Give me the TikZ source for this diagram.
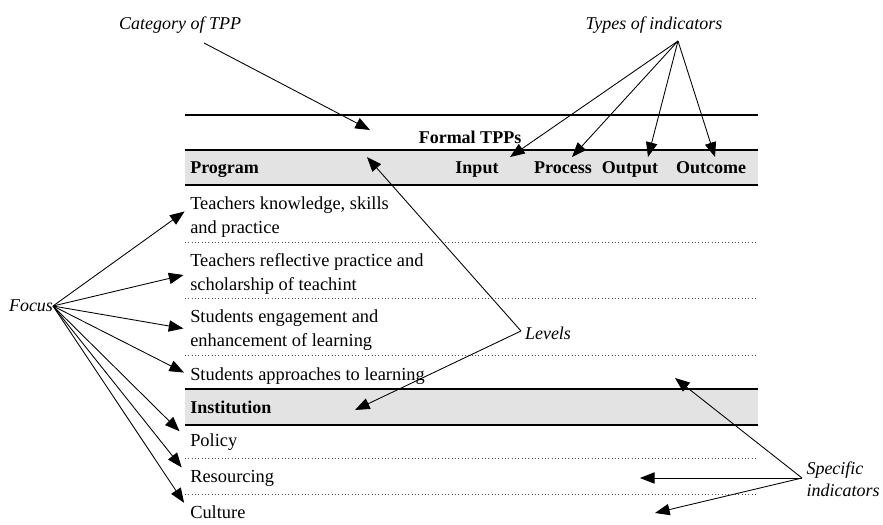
\documentclass[tikz,border=0pt]{standalone}
\usepackage{fontspec}
\setmainfont{Liberation Serif}
\usetikzlibrary{arrows.meta,calc}
\begin{document}
\begin{tikzpicture}[x=0.75pt,y=-0.75pt,
  lbl/.style={font=\fontsize{13.5}{16.5}\selectfont\itshape, inner sep=0pt, align=left},
  txt/.style={font=\fontsize{13.8}{18}\selectfont, anchor=base west, inner sep=0pt, align=left},
  hdr/.style={font=\fontsize{13.5}{18}\selectfont\bfseries, anchor=base, inner sep=0pt},
  arr/.style={-{Triangle[length=11pt,width=8.5pt]}, line width=0.65pt},
  solidrule/.style={line width=0.8pt},
  dotrule/.style={dotted, line width=0.5pt, black!70},
  band/.style={fill=black!11}]
\useasboundingbox (0,0) rectangle (883,525);
% gray bands
\fill[band] (185,150) rectangle (758,185);
\fill[band] (185,389) rectangle (758,425);
% rules
\draw[solidrule] (185,115) -- (758,115);
\draw[solidrule] (185,150) -- (758,150);
\draw[solidrule] (185,185) -- (758,185);
\draw[dotrule] (185,242) -- (758,242);
\draw[dotrule] (185,298) -- (758,298);
\draw[dotrule] (185,355) -- (758,355);
\draw[solidrule] (185,389) -- (758,389);
\draw[solidrule] (185,425) -- (758,425);
\draw[dotrule] (185,458) -- (758,458);
\draw[dotrule] (185,494) -- (758,494);
% header
\node[hdr] (formal) at (470,143) {Formal TPPs};
\node[hdr, anchor=base west] (program) at (190,173) {Program};
\node[hdr] (input) at (477,173) {Input};
\node[hdr] (process) at (563,173) {Process};
\node[hdr] (output) at (630,173) {Output};
\node[hdr] (outcome) at (711,173) {Outcome};
% rows (base = baseline of last line)
\node[txt] (r1) at (190,233) {Teachers knowledge, skills\\and practice};
\node[txt] (r2) at (190,290) {Teachers reflective practice and\\scholarship of teachint};
\node[txt] (r3) at (190,346) {Students engagement and\\enhancement of learning};
\node[txt] (r4) at (190,380) {Students approaches to learning};
\node[hdr, anchor=base west] (inst) at (190,413) {Institution};
\node[txt] (policy) at (190,446) {Policy};
\node[txt] (resourcing) at (190,482) {Resourcing};
\node[txt] (culture) at (190,518) {Culture};
% labels
\node[lbl] (cat) at (180,25) {Category of TPP};
\node[lbl] (types) at (654,25) {Types of indicators};
\node[lbl] (focus) at (31,306) {Focus};
\node[lbl] (levels) at (548,333) {Levels};
\node[lbl] (spec) at (843,479) {Specific\\indicators};
% coordinates
\coordinate (catO) at (204,43);
\coordinate (catT) at (370,130);
\coordinate (typO) at (678,41);
\coordinate (tIn) at (510,157);
\coordinate (tPr) at (572,157);
\coordinate (tOu) at (648,157);
\coordinate (tOc) at (715,157);
\coordinate (levO) at (521,331);
\coordinate (levP) at (367,157);
\coordinate (levI) at (355,410);
\coordinate (focO) at (53,306);
\coordinate (spO) at (802,478);
\coordinate (spA) at (675,378);
\coordinate (spB) at (640,478);
\coordinate (spC) at (655,513);
% arrows
\draw[arr] (catO) -- (catT);
\foreach \t in {tIn,tPr,tOu,tOc} \draw[arr] (typO) -- (\t);
\draw[arr] (levO) -- (levP);
\draw[arr] (levO) -- (levI);
\draw[arr, shorten >=5pt] (focO) -- ($(r1.west)+(0,-9)$);
\draw[arr, shorten >=5pt] (focO) -- (r2.west);
\draw[arr, shorten >=5pt] (focO) -- (r3.west);
\draw[arr, shorten >=5pt] (focO) -- (r4.west);
\draw[arr, shorten >=11pt] (focO) -- (policy.west);
\draw[arr, shorten >=10pt] (focO) -- (resourcing.west);
\draw[arr, shorten >=8pt] (focO) -- (culture.west);
\draw[arr] (spO) -- (spA);
\draw[arr] (spO) -- (spB);
\draw[arr] (spO) -- (spC);
\end{tikzpicture}
\end{document}
